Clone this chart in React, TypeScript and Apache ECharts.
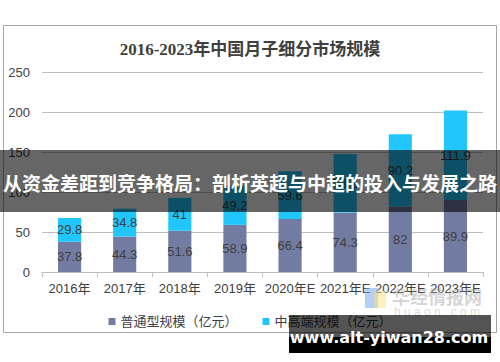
import React, { useEffect, useRef } from "react";
import * as echarts from "echarts";

const categories = ["2016年", "2017年", "2018年", "2019年", "2020年E", "2021年E", "2022年E", "2023年E"];
const normalValues = [37.8, 44.3, 51.6, 58.9, 66.4, 74.3, 82, 89.9];
const highEndValues = [29.8, 34.8, 41, 49.2, 59.6, 73.2, 90.2, 111.9];
const seriesNames = ["普通型规模（亿元）", "中高端规模（亿元）"];
const titleText = "2016-2023年中国月子细分市场规模";
const bannerText = "从资金差距到竞争格局：剖析英超与中超的投入与发展之路";
const siteText = "www.alt-yiwan28.com";

const SANS = '"Liberation Sans", "Noto Sans CJK SC", sans-serif';

export default function App() {
  const ref = useRef<HTMLDivElement>(null);
  useEffect(() => {
    if (!ref.current) return;
    const chart = echarts.init(ref.current, null, { renderer: "svg" });
    chart.setOption({
      animation: false,
      backgroundColor: "#ffffff",
      title: {
        text: titleText,
        left: "center",
        top: 36,
        textStyle: {
          fontFamily: '"Liberation Serif", "Noto Sans CJK SC", serif',
          fontSize: 17,
          fontWeight: "bold",
          color: "#404040",
        },
      },
      grid: { left: 42, right: 17, top: 72, bottom: 90, containLabel: false },
      legend: {
        data: seriesNames,
        left: "center",
        top: 310,
        itemWidth: 7,
        itemHeight: 7,
        itemGap: 25,
        icon: "rect",
        textStyle: { fontFamily: SANS, fontSize: 13, color: "#404040" },
      },
      xAxis: {
        type: "category",
        data: categories,
        axisLine: { lineStyle: { color: "#bfbfbf", width: 1 } },
        axisTick: { show: true, length: 5, lineStyle: { color: "#bfbfbf" } },
        axisLabel: { fontFamily: SANS, fontSize: 13, color: "#404040", margin: 10, interval: 0 },
      },
      yAxis: {
        type: "value",
        min: 0,
        max: 250,
        interval: 50,
        axisLine: { show: false },
        axisTick: { show: false },
        splitLine: { lineStyle: { color: "#bfbfbf", width: 1 } },
        axisLabel: { fontFamily: SANS, fontSize: 13, color: "#404040", margin: 12 },
      },
      series: [
        {
          name: seriesNames[0],
          type: "bar",
          stack: "total",
          data: normalValues,
          barWidth: "42%",
          itemStyle: { color: "#727ca3" },
          label: { show: true, position: "inside", fontFamily: SANS, fontSize: 13, color: "#404040" },
        },
        {
          name: seriesNames[1],
          type: "bar",
          stack: "total",
          data: highEndValues,
          barWidth: "42%",
          itemStyle: { color: "#21c6fc" },
          label: { show: true, position: "inside", fontFamily: SANS, fontSize: 13, color: "#404040" },
        },
      ],
      graphic: [
        {
          type: "rect",
          shape: { x: 3.5, y: 25.5, width: 493, height: 307 },
          style: { fill: "none", stroke: "#a6a6a6", lineWidth: 1 },
          z: 1,
          silent: true,
        },
        {
          type: "rect",
          shape: { x: 365, y: 288, width: 13, height: 20 },
          style: { fill: "rgba(120,170,240,0.55)" },
          z: 50,
          silent: true,
        },
        {
          type: "rect",
          shape: { x: 374, y: 291, width: 12, height: 17 },
          style: { fill: "rgba(250,225,130,0.5)" },
          z: 50,
          silent: true,
        },
        {
          type: "text",
          x: 392,
          y: 296,
          style: {
            text: "华经情报网",
            fontFamily: '"Noto Sans CJK SC", sans-serif',
            fontSize: 18,
            fontWeight: "bold",
            fill: "rgba(160,160,160,0.45)",
            verticalAlign: "middle",
          },
          z: 50,
          silent: true,
        },
        {
          type: "text",
          x: 394,
          y: 312,
          style: {
            text: "h u a o n . c o m",
            fontFamily: SANS,
            fontSize: 12,
            fill: "rgba(160,160,160,0.4)",
            verticalAlign: "middle",
          },
          z: 50,
          silent: true,
        },
        {
          type: "rect",
          shape: { x: 0, y: 150, width: 500, height: 62 },
          style: { fill: "rgba(0,0,0,0.6)" },
          z: 100,
          silent: true,
        },
        {
          type: "text",
          x: 250,
          y: 182,
          style: {
            text: bannerText,
            fontFamily: '"Noto Sans CJK SC", sans-serif',
            fontSize: 19,
            fontWeight: "bold",
            fill: "#ffffff",
            align: "center",
            verticalAlign: "middle",
          },
          z: 101,
          silent: true,
        },
        {
          type: "rect",
          shape: { x: 289, y: 315, width: 202, height: 38 },
          style: { fill: "rgba(0,0,0,0.67)" },
          z: 100,
          silent: true,
        },
        {
          type: "rect",
          shape: { x: 289, y: 337, width: 202, height: 16 },
          style: { fill: "#000000" },
          z: 100,
          silent: true,
        },
        {
          type: "text",
          x: 389,
          y: 337,
          style: {
            text: siteText,
            fontFamily: '"DejaVu Sans", sans-serif',
            fontSize: 16,
            fontWeight: "bold",
            fill: "#ffffff",
            align: "center",
            verticalAlign: "middle",
          },
          z: 101,
          silent: true,
        },
      ],
    });
    return () => chart.dispose();
  }, []);
  return <div ref={ref} style={{ width: 500, height: 362, position: "absolute", left: 0, top: 0 }} />;
}
